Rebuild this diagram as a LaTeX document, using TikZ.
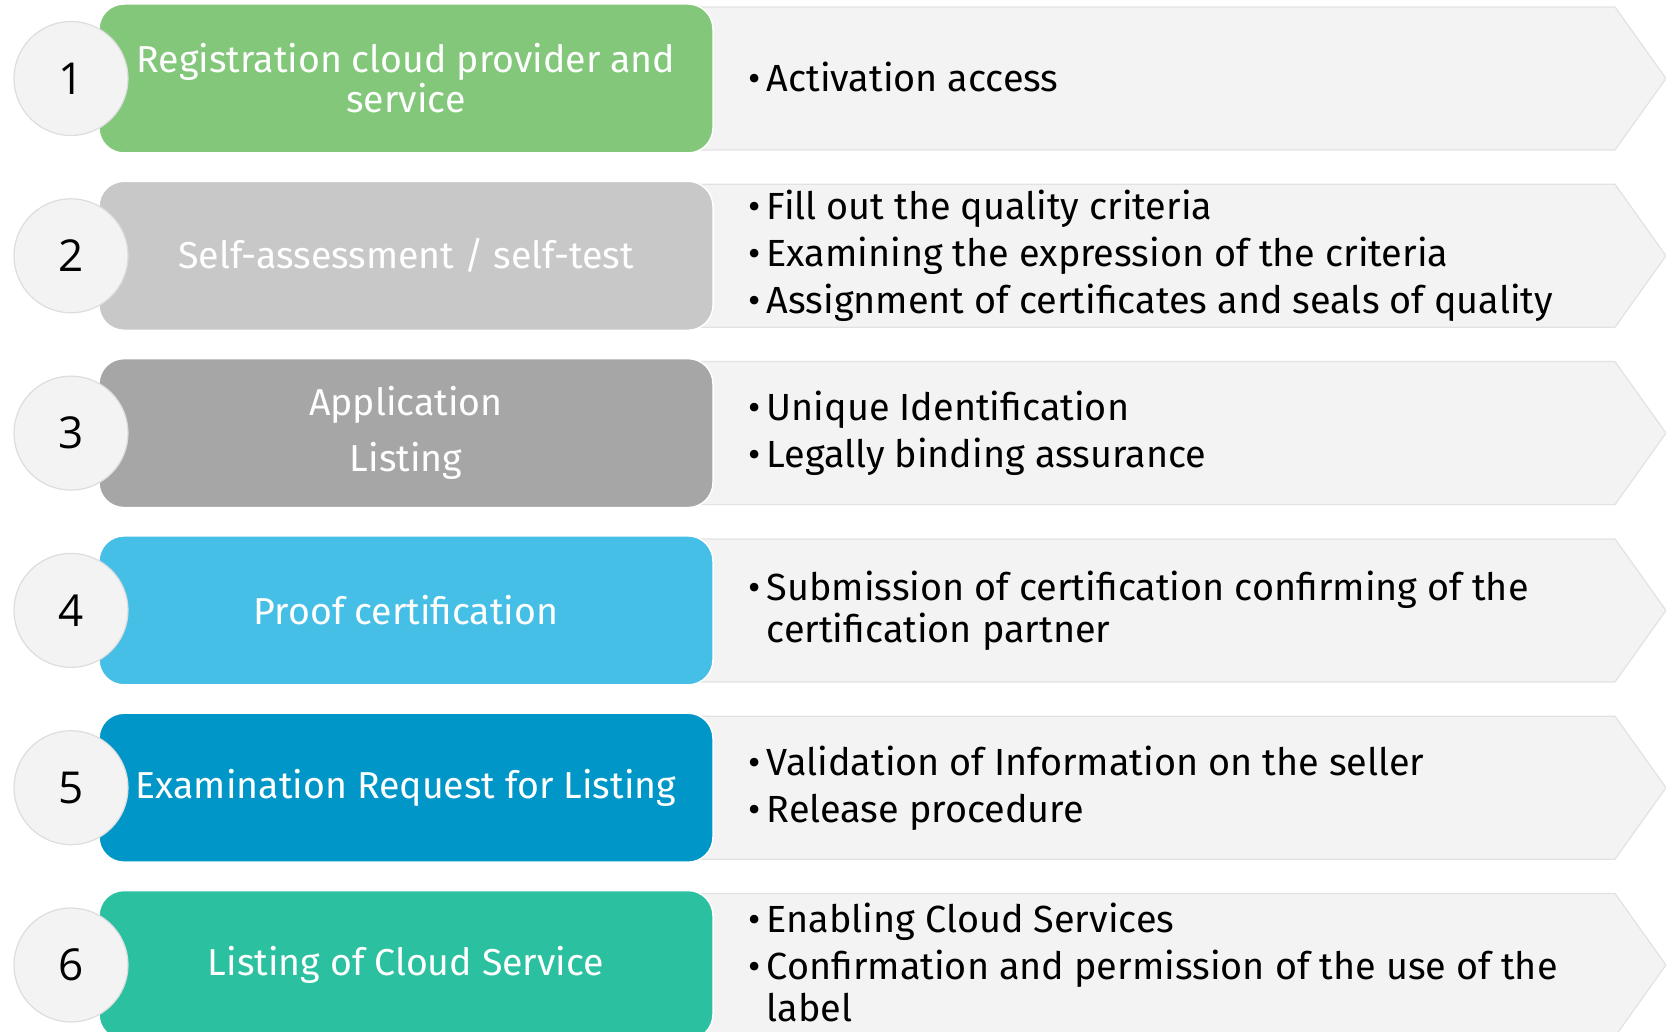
\documentclass[tikz,border=0pt]{standalone}
\usepackage{fontspec}
\setmainfont{Fira Sans}
\newfontfamily\numfont{Open Sans}
\definecolor{panelgray}{HTML}{F3F3F3}
\definecolor{panelline}{HTML}{E2E2E2}
\definecolor{circline}{HTML}{DDDDDD}
\definecolor{cgreen}{HTML}{82C77A}
\definecolor{clgray}{HTML}{C8C8C8}
\definecolor{cmgray}{HTML}{A6A6A6}
\definecolor{csky}{HTML}{45BFE6}
\definecolor{cblue}{HTML}{0097C8}
\definecolor{cteal}{HTML}{2BC0A0}
\newcommand\bul{\textbullet\,}
\newcommand\hang{\phantom{\textbullet\,}}
\tikzset{
  arrowbg/.style={fill=panelgray, draw=panelline, line width=1.2pt},
  stepbox/.style={rectangle, rounded corners=25pt, minimum width=614pt, minimum height=149pt,
    draw=white, line width=1.5pt, text=white, align=center, inner sep=0pt,
    font=\fontsize{37.5}{40}\selectfont},
  numcircle/.style={circle, minimum size=114pt, fill=panelgray, draw=circline, line width=1.2pt,
    font=\numfont\fontsize{44}{44}\selectfont, inner sep=0pt},
  bullets/.style={anchor=west, align=left, inner sep=0pt, font=\fontsize{37.8}{42}\selectfont}
}
\begin{document}
\begin{tikzpicture}[x=1pt,y=-1pt]
\useasboundingbox (0,0) rectangle (1666,1032);
\foreach \c in {78.5,255.8,433.1,610.4,787.7,965.0}{
  \draw[arrowbg] (690,\c-71.5) -- (1615,\c-71.5) -- (1666,\c) -- (1615,\c+71.5) -- (690,\c+71.5) -- cycle;
}
% row 1
\node[stepbox, fill=cgreen] (b1) at (406,78.5) {Registration cloud provider and\\service};
\node[numcircle] (c1) at (71,78.5) {1};
\node[bullets] (t1) at (748,76.5) {\bul Activation access};
% row 2
\node[stepbox, fill=clgray] (b2) at (406,255.8) {Self-assessment / self-test};
\node[numcircle] (c2) at (71,255.8) {2};
\node[bullets] (t2) at (748,255.8) {\bul Fill out the quality criteria\\[5pt]\bul Examining the expression of the criteria\\[5pt]\bul Assignment of certificates and seals of quality};
% row 3
\node[stepbox, fill=cmgray] (b3) at (406,433.1) {Application\\[16pt]Listing};
\node[numcircle] (c3) at (71,433.1) {3};
\node[bullets] (t3) at (748,433.1) {\bul Unique Identification\\[5pt]\bul Legally binding assurance};
% row 4
\node[stepbox, fill=csky] (b4) at (406,610.4) {Proof certification};
\node[numcircle] (c4) at (71,610.4) {4};
\node[bullets] (t4) at (748,610.4) {\bul Submission of certification confirming of the\\\hang certification partner};
% row 5
\node[stepbox, fill=cblue] (b5) at (406,787.7) {Examination Request for Listing};
\node[numcircle] (c5) at (71,787.7) {5};
\node[bullets] (t5) at (748,788.5) {\bul Validation of Information on the seller\\[5pt]\bul Release procedure};
% row 6
\node[stepbox, fill=cteal] (b6) at (406,965.0) {Listing of Cloud Service};
\node[numcircle] (c6) at (71,965.0) {6};
\node[bullets] (t6) at (748,962.5) {\bul Enabling Cloud Services\\[5pt]\bul Confirmation and permission of the use of the\\\hang label};
\end{tikzpicture}
\end{document}
